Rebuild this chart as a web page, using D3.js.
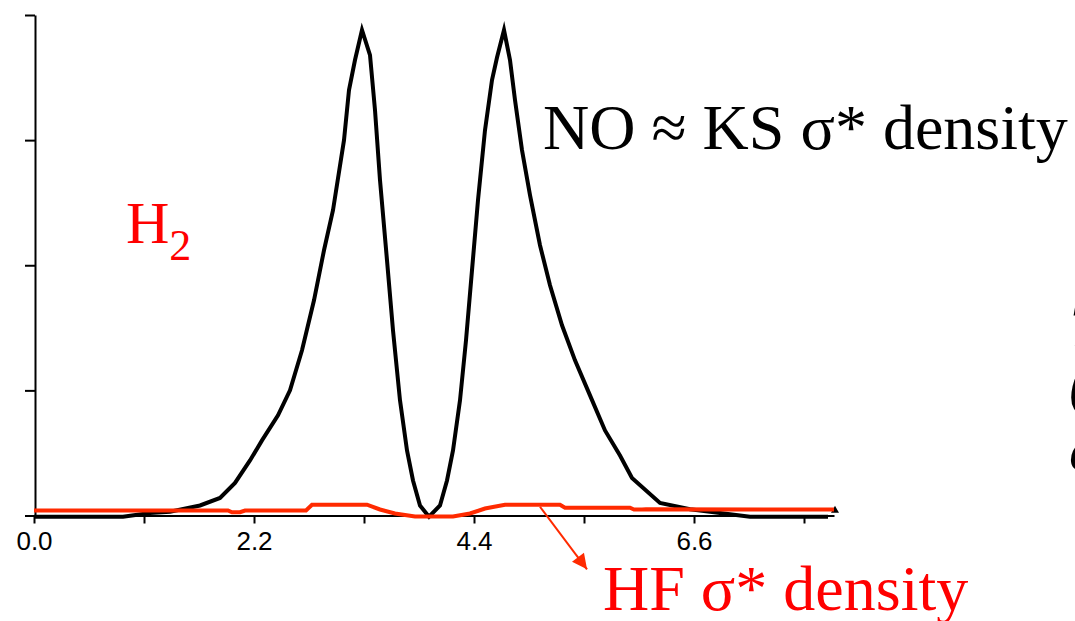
<!DOCTYPE html>
<html>
<head>
<meta charset="utf-8">
<script src="https://cdn.jsdelivr.net/npm/d3@7"></script>
<style>
  html, body { margin: 0; padding: 0; background: #fff; }
  svg { display: block; }
  .serif { font-family: "Liberation Serif", "Times New Roman", serif; }
  .tick text { font-family: "Liberation Sans", Arial, sans-serif; font-size: 26px; fill: #000; }
</style>
</head>
<body>
<svg id="chart"></svg>
<script>
// chart values
const xTicks = [0, 1.1, 2.2, 3.3, 4.4, 5.5, 6.6, 7.7];
const xTickLabels = ['0.0', '', '2.2', '', '4.4', '', '6.6', ''];
const yTicks = [0, 1, 2, 3, 4];

// NO ~ KS sigma* density (black)
const noX = [0.00, 0.89, 1.16, 1.36, 1.66, 1.86, 2.01, 2.16, 2.28, 2.44, 2.56, 2.68, 2.80, 2.90, 2.99, 3.10, 3.15, 3.21, 3.28,
             3.36, 3.41, 3.46, 3.53, 3.59, 3.66, 3.73, 3.79, 3.86, 3.95,
             4.06, 4.13, 4.19, 4.26, 4.32, 4.38, 4.44, 4.51, 4.58, 4.63, 4.70,
             4.76, 4.81, 4.88, 4.96, 5.06, 5.16, 5.28, 5.41, 5.56, 5.71, 5.86, 5.98, 6.26, 6.56, 6.86, 7.16, 7.94];
const noY = [-0.01, -0.01, 0.02, 0.03, 0.08, 0.14, 0.26, 0.44, 0.60, 0.80, 1.00, 1.32, 1.72, 2.12, 2.44, 3.00, 3.40, 3.64, 3.88,
             3.68, 3.24, 2.68, 2.04, 1.48, 0.92, 0.52, 0.28, 0.08, -0.01,
             0.08, 0.28, 0.52, 0.92, 1.40, 1.96, 2.52, 3.08, 3.48, 3.66, 3.88,
             3.64, 3.32, 2.92, 2.56, 2.16, 1.84, 1.52, 1.24, 0.96, 0.68, 0.48, 0.30, 0.10, 0.05, 0.02, -0.01, -0.01];

// HF sigma* density (red)
const hfX = [0.00, 1.94, 1.98, 2.06, 2.11, 2.72, 2.78, 3.33, 3.46, 3.61, 3.81, 4.19, 4.36, 4.51, 4.71,
             5.26, 5.31, 5.96, 6.00, 6.08, 6.12, 8.00];
const hfY = [0.04, 0.04, 0.026, 0.026, 0.04, 0.04, 0.086, 0.086, 0.048, 0.016, -0.008, -0.008, 0.016, 0.056, 0.086,
             0.086, 0.062, 0.062, 0.048, 0.048, 0.05, 0.048];

const width = 1075;
const height = 621;

const svg = d3.select('#chart')
    .attr('width', width)
    .attr('height', height);

const x = d3.scaleLinear().domain([0, 8]).range([34, 834]);
const y = d3.scaleLinear().domain([0, 4]).range([515.5, 15]);

// axes
const xAxis = d3.axisBottom(x)
    .tickValues(xTicks)
    .tickFormat((d, i) => xTickLabels[i])
    .tickSize(8)
    .tickSizeOuter(0)
    .tickPadding(8);

const gx = svg.append('g')
    .attr('transform', `translate(0,${y(0)})`)
    .call(xAxis);
gx.selectAll('path, line').attr('stroke', '#000').attr('stroke-width', 2);

const yAxis = d3.axisLeft(y)
    .tickValues(yTicks)
    .tickFormat('')
    .tickSize(10)
    .tickSizeOuter(0);

const gy = svg.append('g')
    .attr('transform', `translate(${x(0) + 1},0)`)
    .call(yAxis);
gy.selectAll('path, line').attr('stroke', '#000').attr('stroke-width', 2);

// little end marker on the x axis
svg.append('path')
    .attr('d', d3.symbol(d3.symbolTriangle, 28)())
    .attr('transform', `translate(${x(8) + 1},${y(0) - 5})`)
    .attr('fill', '#000');

const line = d3.line()
    .x(d => x(d[0]))
    .y(d => y(d[1]));

// curves
svg.append('path')
    .datum(noX.map((v, i) => [v, noY[i]]))
    .attr('d', line)
    .attr('fill', 'none')
    .attr('stroke', '#000')
    .attr('stroke-width', 4)
    .attr('stroke-linejoin', 'miter')
    .attr('stroke-miterlimit', 10);

svg.append('path')
    .datum(hfX.map((v, i) => [v, hfY[i]]))
    .attr('d', line)
    .attr('fill', 'none')
    .attr('stroke', '#ff2a00')
    .attr('stroke-width', 4);

// arrow from the red curve to its label
svg.append('defs').append('marker')
    .attr('id', 'arrowhead')
    .attr('viewBox', '0 0 10 10')
    .attr('refX', 10)
    .attr('refY', 5)
    .attr('markerWidth', 18)
    .attr('markerHeight', 15)
    .attr('markerUnits', 'userSpaceOnUse')
    .attr('orient', 'auto')
    .append('path')
    .attr('d', 'M0,0 L10,5 L0,10 Z')
    .attr('fill', '#ff2a00');

svg.append('line')
    .attr('x1', x(5.06)).attr('y1', y(0.07))
    .attr('x2', x(5.53)).attr('y2', y(-0.43))
    .attr('stroke', '#ff2a00')
    .attr('stroke-width', 2)
    .attr('marker-end', 'url(#arrowhead)');

// labels
svg.append('text')
    .attr('class', 'serif')
    .attr('x', 543).attr('y', 149)
    .attr('font-size', 64)
    .attr('fill', '#000')
    .text('NO \u2248 KS \u03c3* density');

const h2 = svg.append('text')
    .attr('class', 'serif')
    .attr('x', 126).attr('y', 243)
    .attr('font-size', 60)
    .attr('fill', '#ff0000');
h2.append('tspan').text('H');
h2.append('tspan').attr('dy', 17).attr('font-size', 44).text('2');

svg.append('text')
    .attr('class', 'serif')
    .attr('x', 603).attr('y', 610)
    .attr('font-size', 64)
    .attr('fill', '#ff0000')
    .text('HF \u03c3* density');

// clipped letters of the neighbouring text block at the right edge
const edge = [['T', 1069.5, 346], ['(', 1069, 404], ['e', 1069, 470]];
svg.selectAll('.edge')
    .data(edge)
    .join('text')
    .attr('class', 'serif edge')
    .attr('x', d => d[1])
    .attr('y', d => d[2])
    .attr('font-size', 62)
    .attr('font-style', 'italic')
    .attr('fill', '#000')
    .text(d => d[0]);
</script>
</body>
</html>
